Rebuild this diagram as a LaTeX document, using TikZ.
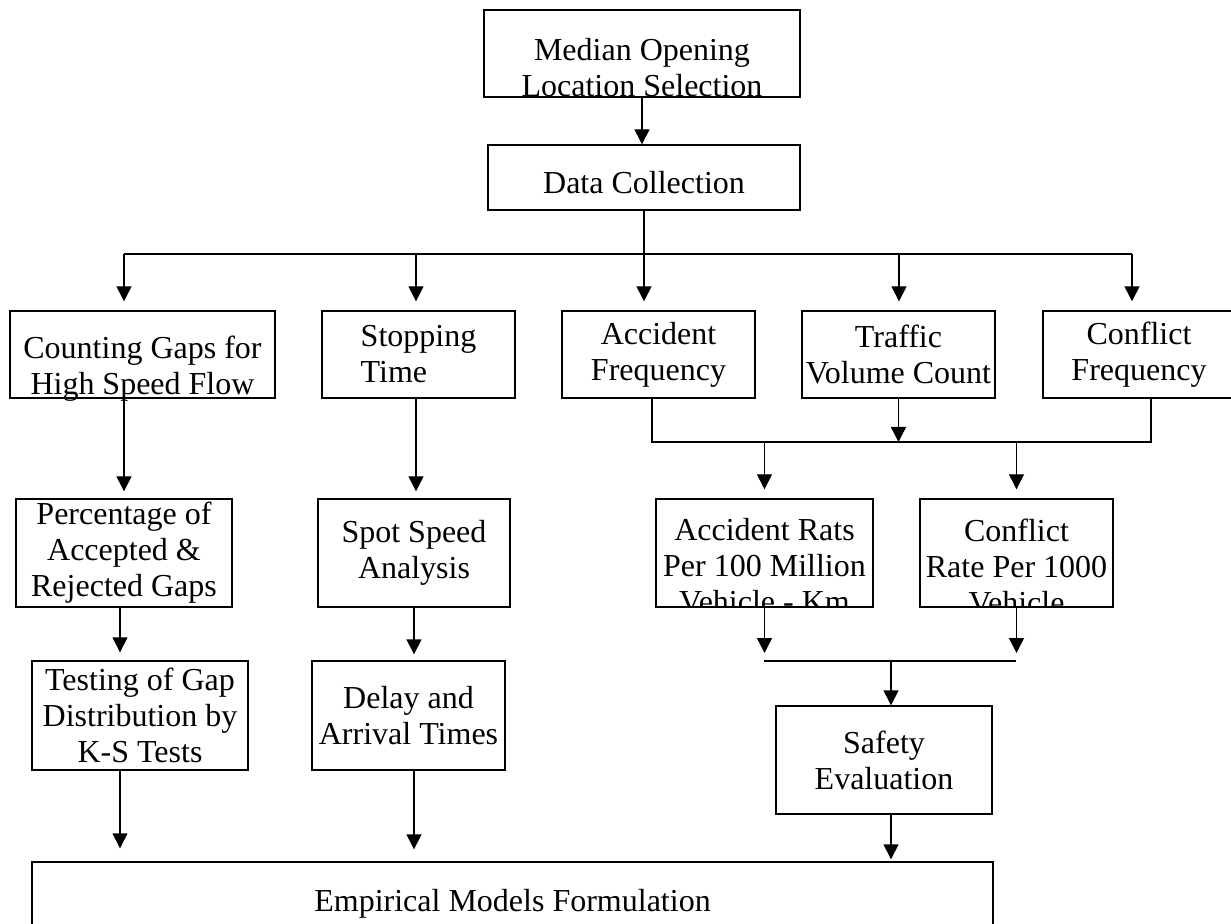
\documentclass[tikz,border=0pt]{standalone}
\usepackage{fontspec}
\setmainfont{Liberation Serif}
\usetikzlibrary{arrows.meta,positioning}

\tikzset{
    box/.style={draw, line width=0.7pt, inner sep=0pt, align=center, font=\fontsize{16}{18}\selectfont,
        execute at begin node={\rule{0pt}{16pt}}},
    txt/.style={inner sep=0pt, align=center, font=\fontsize{16}{18}\selectfont},
    lin/.style={line width=0.7pt},
    arr/.style={line width=0.7pt, -{Triangle[width=7.5pt,length=7.5pt]}},
}

\begin{document}
\begin{tikzpicture}[x=0.5pt, y=-0.5pt]
    \useasboundingbox (0,0) rectangle (1231,924);
    \node [box, minimum width=158pt, minimum height=43.5pt] (median) at (642,53.5) {};
    \node [txt] (mediantxt) at (642,68) {Median Opening\\Location Selection};
    \node [box, minimum width=156pt, minimum height=32.5pt] (data) at (644,177.5) {Data Collection};
    \node [box, minimum width=132.5pt, minimum height=43.5pt] (count) at (142.5,354.5) {};
    \node [txt] (counttxt) at (142.5,369) {Counting Gaps for\\High Speed Flow};
    \node [box, align=left, minimum width=96.5pt, minimum height=43.5pt] (stop) at (418.5,354.5) {Stopping\\Time};
    \node [box, minimum width=96.5pt, minimum height=43.5pt] (acc) at (658.5,354.5) {Accident\\Frequency};
    \node [box, minimum width=96.5pt, minimum height=43.5pt] (traffic) at (898.5,354.5) {Traffic\\Volume Count};
    \node [box, minimum width=96pt, minimum height=43.5pt] (conf) at (1139,354.5) {Conflict\\Frequency};
    \node [box, minimum width=108pt, minimum height=54pt] (perc) at (124,553) {Percentage of\\Accepted \&\\Rejected Gaps};
    \node [box, minimum width=96pt, minimum height=54pt] (spot) at (414,553) {Spot Speed\\Analysis};
    \node [box, minimum width=108.5pt, minimum height=54pt] (arate) at (764.5,553) {};
    \node [box, minimum width=96.5pt, minimum height=54pt] (crate) at (1016.5,553) {};
    \begin{scope}
        \clip (arate.north west) rectangle (arate.south east);
        \node [txt] (aratetxt) at (764.5,566) {Accident Rats\\Per 100 Million\\Vehicle - Km};
    \end{scope}
    \begin{scope}
        \clip (crate.north west) rectangle (crate.south east);
        \node [txt] (cratetxt) at (1016.5,566) {Conflict\\Rate Per 1000\\Vehicle};
    \end{scope}
    \node [box, minimum width=108pt, minimum height=54.5pt] (test) at (140,715.5) {Testing of Gap\\Distribution by\\K-S Tests};
    \node [box, minimum width=96.5pt, minimum height=54.5pt] (delay) at (408.5,715.5) {Delay and\\Arrival Times};
    \node [box, minimum width=108pt, minimum height=54pt] (safety) at (884,760) {Safety\\Evaluation};
    \node [box, minimum width=480.5pt, minimum height=37pt] (emp) at (512.5,899) {Empirical Models Formulation};

    \coordinate (busL) at (124,254);
    \coordinate (busB) at (416,254);
    \coordinate (busD) at (899,254);
    \coordinate (busR) at (1132,254);
    \coordinate (m1) at (652,442);
    \coordinate (m2) at (1151,442);
    \coordinate (n1) at (764,661);
    \coordinate (n2) at (1016,661);
    \coordinate (n3) at (891,661);

    \draw [arr] (median.south) -- (median.south |- data.north);
    \draw [lin] (data.south) -- (data.south |- busL);
    \draw [lin] (busL) -- (busR);
    \draw [arr, shorten >=4.5pt] (busL) -- (busL |- count.north);
    \draw [arr, shorten >=4.5pt] (busB) -- (busB |- stop.north);
    \draw [arr, shorten >=4.5pt] (data.south |- busL) -- (data.south |- acc.north);
    \draw [arr, shorten >=4.5pt] (busD) -- (busD |- traffic.north);
    \draw [arr, shorten >=4.5pt] (busR) -- (busR |- conf.north);

    \draw [arr, shorten >=3.5pt] (perc |- count.south) -- (perc.north);
    \draw [arr, shorten >=3.5pt] (busB |- stop.south) -- (busB |- spot.north);
    \draw [arr, shorten >=4pt] ([xshift=-2pt]perc.south) -- ([xshift=-2pt]perc.south |- test.north);
    \draw [arr, shorten >=6.5pt] ([xshift=-2pt]perc.south |- test.south) -- ([xshift=-2pt]perc.south |- emp.north);
    \draw [arr, shorten >=3pt] (spot.south) -- (spot.south |- delay.north);
    \draw [arr, shorten >=6pt] (spot.south |- delay.south) -- (spot.south |- emp.north);

    \draw [lin] (m1 |- acc.south) -- (m1) -- (m2) -- (m2 |- conf.south);
    \draw [arr] (traffic.south) -- (traffic.south |- m1);
    \draw [arr, shorten >=4.5pt] (arate |- m1) -- (arate.north);
    \draw [arr, shorten >=4.5pt] (crate |- m1) -- (crate.north);

    \draw [arr, shorten >=4pt] (arate.south) -- (arate.south |- n1);
    \draw [arr, shorten >=4pt] (crate.south) -- (crate.south |- n2);
    \draw [lin] (n1) -- (n2);
    \draw [arr] (n3) -- (n3 |- safety.north);
    \draw [arr, shorten >=1pt] (n3 |- safety.south) -- (n3 |- emp.north);
\end{tikzpicture}
\end{document}
